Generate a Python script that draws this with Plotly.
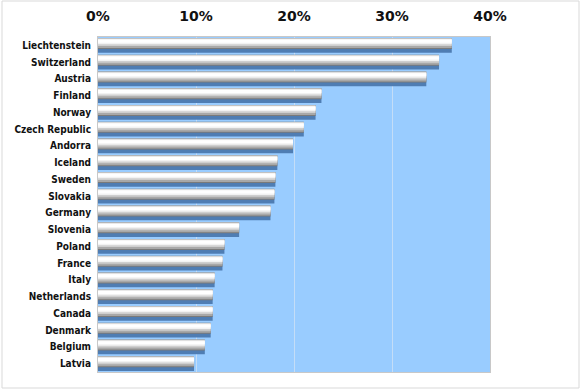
import plotly.graph_objects as go

countries = ["Liechtenstein", "Switzerland", "Austria", "Finland", "Norway",
             "Czech Republic", "Andorra", "Iceland", "Sweden", "Slovakia",
             "Germany", "Slovenia", "Poland", "France", "Italy",
             "Netherlands", "Canada", "Denmark", "Belgium", "Latvia"]
shares = [0.361, 0.348, 0.335, 0.228, 0.222, 0.210, 0.199, 0.183, 0.181, 0.180,
          0.176, 0.144, 0.129, 0.127, 0.119, 0.117, 0.117, 0.115, 0.109, 0.098]
x_ticks = [0, 0.1, 0.2, 0.3, 0.4]

fig = go.Figure()

# layered bars to mimic the cylindrical 3-D look
layers = [
    # (offset, width, color)
    (-0.22, 0.66, "#4f7db3"),   # blue shadow underneath
    (-0.44, 0.66, "#7a7a7a"),   # dark edge
    (-0.43, 0.58, "#a8a8a8"),
    (-0.42, 0.46, "#cfcfcf"),
    (-0.38, 0.32, "#f2f2f2"),
    (-0.34, 0.18, "#ffffff"),
]
for off, w, col in layers:
    fig.add_trace(go.Bar(
        y=countries, x=shares, orientation="h",
        offset=off, width=w,
        marker=dict(color=col, line=dict(width=0)),
        hoverinfo="skip", showlegend=False,
    ))

fig.update_layout(
    width=582, height=390,
    margin=dict(l=98, r=92, t=37, b=18, autoexpand=False),
    paper_bgcolor="white",
    plot_bgcolor="#99ccff",
    barmode="overlay",
    xaxis=dict(
        side="top", range=[0, 0.4], tickvals=x_ticks, tickformat=".0%",
        showgrid=True, gridcolor="#c4ddf7", gridwidth=1,
        zeroline=False, automargin=False,
        showline=True, linecolor="#c8c8c8", linewidth=1, mirror=True,
        ticks="outside", ticklen=9, tickcolor="rgba(0,0,0,0)",
        tickfont=dict(family="DejaVu Sans", size=14, color="#111111", weight="bold"),
        fixedrange=True,
    ),
    yaxis=dict(
        categoryorder="array", categoryarray=countries, autorange="reversed",
        showgrid=False, zeroline=False, automargin=False,
        showline=True, linecolor="#c8c8c8", linewidth=1, mirror=True,
        ticks="outside", ticklen=4, tickcolor="rgba(0,0,0,0)",
        tickfont=dict(family="DejaVu Sans Condensed, Liberation Sans", size=10,
                      color="#111111", weight="bold"),
        fixedrange=True,
    ),
    shapes=[dict(type="rect", xref="paper", yref="paper",
                 x0=(2 - 98) / 392, x1=(579 - 98) / 392,
                 y0=(372 - 388) / 335, y1=(372 - 1) / 335,
                 line=dict(color="#d9d9d9", width=1), fillcolor="rgba(0,0,0,0)",
                 layer="below")],
)

fig.write_html("out.html", config={"displayModeBar": False},
               post_script="document.body.style.margin='0';")
